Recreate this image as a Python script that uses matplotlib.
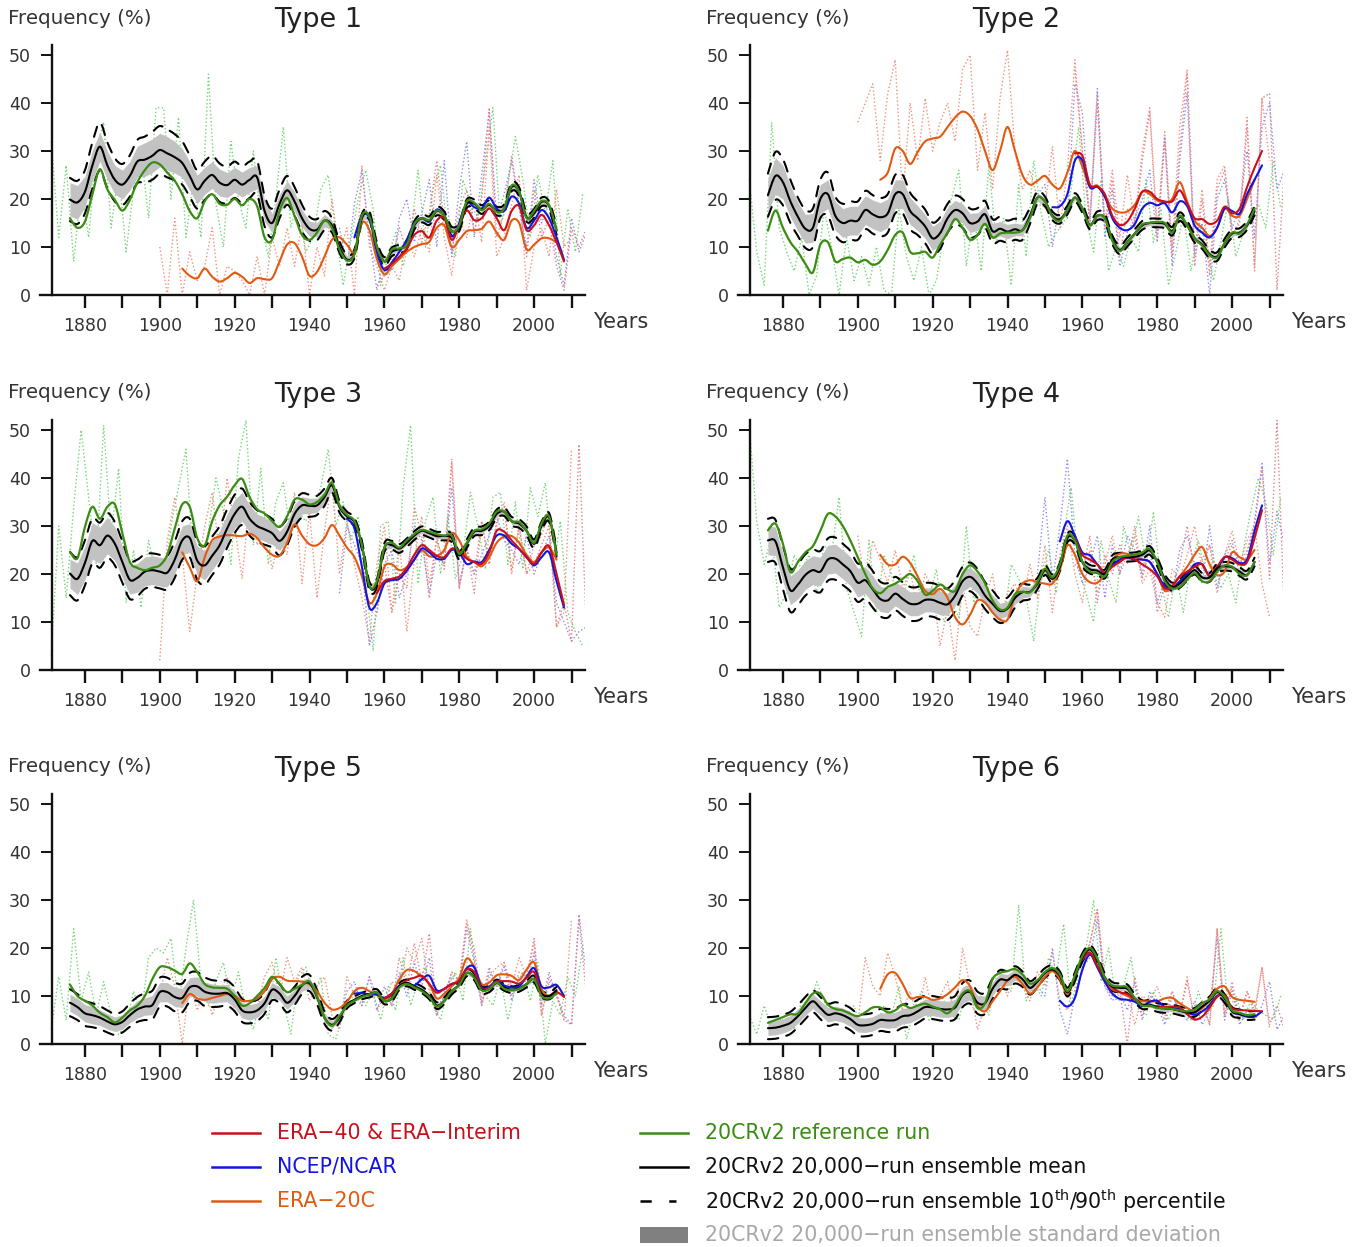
import matplotlib
matplotlib.use("Agg")
import matplotlib.pyplot as plt
from matplotlib.path import Path
from matplotlib.patches import PathPatch
import numpy as np

# ---------------- year grids ----------------
YR_20CR = list(range(1876, 2007, 2))       # smoothed 20CRv2 curves
YR_ERA20C = list(range(1906, 2007, 2))     # smoothed ERA-20C
YR_RAW_20CR = list(range(1871, 2014, 2))   # annual (sampled) 20CRv2 reference run
YR_RAW_ERA20C = list(range(1900, 2011, 2))
YR_RAW_NCEP = list(range(1948, 2015, 2))
YR_RAW_ERA = list(range(1958, 2015, 2))

# ---------------- Type 1 ----------------
T1_MEAN = [19.9, 19.3, 21.5, 27.0, 30.9, 27.0, 24.0, 23.0, 24.8, 27.8,
           28.2, 29.0, 30.2, 29.5, 28.7, 27.5, 24.8, 22.0, 23.8, 25.0,
           23.4, 22.9, 24.0, 23.0, 24.0, 24.5, 17.5, 15.0, 19.0, 21.8,
           19.5, 16.0, 13.8, 13.6, 15.5, 14.5, 10.0, 7.4, 8.6, 16.0,
           16.5, 10.1, 7.0, 9.0, 9.6, 10.5, 14.5, 16.0, 15.5, 17.5,
           16.5, 13.3, 14.2, 19.0, 19.0, 17.8, 18.8, 17.5, 18.0, 22.5,
           21.5, 16.2, 17.0, 19.4, 18.6, 13.5]
T1_REF = [16.0, 14.0, 15.3, 21.0, 26.2, 22.0, 19.8, 17.6, 19.8, 23.5,
          26.0, 27.6, 27.2, 25.5, 23.8, 21.0, 17.5, 16.0, 19.5, 21.0,
          19.0, 18.8, 20.0, 18.7, 20.0, 18.5, 12.0, 11.5, 17.5, 20.2,
          16.5, 12.5, 11.5, 13.0, 15.5, 14.0, 9.5, 7.2, 8.5, 16.5,
          16.3, 10.0, 7.0, 9.5, 9.7, 10.5, 14.8, 16.0, 15.6, 17.6,
          16.5, 13.2, 14.5, 19.5, 19.2, 17.7, 19.0, 17.3, 18.0, 22.8,
          21.5, 16.0, 17.5, 19.6, 18.7, 13.5]
T1_SD = [3.5, 3.5, 3.2, 3.2, 3.0, 3.0, 3.0, 3.0, 3.0, 3.2,
         3.5, 3.5, 3.5, 3.5, 3.3, 3.0, 3.0, 3.0, 2.8, 2.8,
         2.8, 2.6, 2.6, 2.6, 2.6, 2.4, 2.2, 2.0, 2.0, 2.0,
         2.0, 1.8, 1.6, 1.5, 1.3, 1.0, 0.8, 0.7, 0.5, 0.5] + [0.5] * 26
T1_PW = [4.5, 4.5, 4.5, 4.8, 5.0, 4.8, 4.5, 4.3, 4.3, 4.5,
         4.8, 5.0, 5.0, 5.0, 4.8, 4.5, 4.3, 4.0, 4.0, 4.0,
         4.0, 3.8, 3.8, 3.8, 3.8, 3.5, 3.2, 3.0, 3.0, 3.0,
         3.0, 2.8, 2.5, 2.2, 2.0, 1.5, 1.2, 1.0, 0.9, 0.9] + [0.9] * 26
T1_NCEP_START = 1952
T1_NCEP = [12.0, 16.5, 16.0, 9.0, 5.2, 6.8, 9.0, 11.5, 15.0, 16.0,
           15.3, 17.8, 16.5, 12.2, 15.0, 19.2, 18.3, 18.0, 20.3, 18.0,
           17.5, 20.5, 19.0, 14.0, 15.5, 17.7, 16.0, 12.0, 7.3]
T1_ERA_START = 1960
T1_ERA = [5.5, 6.5, 8.0, 9.7, 12.5, 13.3, 12.0, 15.5, 16.0, 11.5,
          14.5, 17.6, 15.6, 16.0, 18.0, 16.0, 13.5, 17.5, 18.5, 13.5,
          14.5, 16.7, 14.5, 11.0, 7.0]
T1_ERA20C = [5.5, 4.0, 3.5, 5.5, 3.8, 2.8, 3.5, 4.6, 3.8, 2.5,
             3.5, 3.3, 3.5, 7.0, 10.5, 10.8, 8.0, 4.0, 4.8, 8.0,
             11.5, 12.0, 10.5, 9.0, 15.0, 13.5, 7.5, 4.3, 6.0, 7.5,
             9.0, 10.0, 10.6, 11.1, 14.0, 14.5, 10.0, 11.5, 13.3, 13.5,
             13.8, 15.3, 13.0, 11.5, 15.5, 15.0, 9.5, 10.5, 11.8, 11.8,
             11.0]
T1_RAW_REF = [32, 12, 27, 7, 22, 12, 30, 36, 14, 26,
              9, 22, 30, 16, 39, 39, 20, 37, 12, 24,
              12, 46, 19, 10, 32, 20, 14, 30, 15, 8,
              20, 35, 14, 20, 9, 12, 22, 25, 13, 2,
              11, 20, 26, 18, 2, 8, 13, 6, 12, 26,
              10, 22, 27, 12, 8, 24, 19, 16, 27, 39,
              14, 23, 33, 24, 12, 25, 17, 28, 4, 18,
              9, 21]
T1_RAW_ERA20C = [10, 0, 16, 0, 9, 3, 6, 14, 0, 6,
                 5, 3, 0, 8, 0, 12, 6, 14, 6, 15,
                 0, 10, 4, 20, 9, 14, 0, 27, 10, 6,
                 1, 6, 3, 12, 8, 14, 9, 25, 12, 4,
                 16, 12, 20, 11, 35, 8, 12, 19, 25, 1,
                 10, 14, 8, 22, 10, 12]
T1_RAW_NCEP = [14, 6, 19, 26, 12, 1, 8, 5, 16, 20,
               11, 17, 24, 10, 28, 8, 22, 32, 12, 25,
               38, 16, 21, 28, 18, 10, 24, 15, 19, 8,
               2, 16, 9, 13]
T1_RAW_ERA = [2, 4, 7, 14, 9, 18, 11, 17, 28, 15,
              9, 18, 22, 13, 20, 39, 12, 17, 29, 19,
              8, 22, 12, 16, 6, 1, 14, 10, 14]

# ---------------- Type 2 ----------------
T2_MEAN = [20.8, 24.8, 23.5, 19.5, 16.3, 13.8, 14.0, 20.0, 21.0, 16.5,
           15.0, 15.5, 15.5, 17.7, 16.8, 16.2, 17.0, 21.0, 21.0, 17.5,
           16.0, 14.3, 11.8, 12.9, 16.0, 17.7, 17.0, 15.0, 15.3, 16.8,
           13.3, 13.8, 13.2, 13.7, 13.5, 16.5, 20.3, 19.5, 16.5, 15.8,
           17.7, 20.3, 18.0, 14.6, 16.5, 16.0, 11.5, 9.4, 11.0, 12.8,
           14.5, 15.0, 15.0, 14.8, 13.3, 16.3, 14.5, 11.8, 10.5, 8.5,
           8.0, 10.8, 12.8, 13.0, 14.5, 17.5]
T2_REF = [13.4, 17.6, 14.0, 11.0, 9.0, 6.5, 4.7, 10.5, 11.0, 7.0,
          7.5, 7.8, 6.8, 7.3, 6.3, 7.0, 9.4, 12.5, 13.0, 9.0,
          8.7, 9.0, 7.8, 10.5, 13.0, 15.8, 14.0, 11.5, 12.5, 14.8,
          12.0, 12.8, 13.0, 13.0, 13.5, 16.0, 20.3, 19.5, 16.3, 15.5,
          17.7, 20.3, 18.0, 14.5, 16.5, 16.0, 11.3, 9.2, 11.0, 12.8,
          14.7, 15.0, 15.2, 15.0, 13.0, 16.5, 14.5, 11.8, 10.3, 8.3,
          7.8, 10.8, 13.0, 12.8, 14.7, 18.0]
T2_SD = [3.5, 3.8, 3.5, 3.3, 3.0, 3.0, 3.0, 3.0, 3.0, 3.0,
         3.0, 3.0, 3.0, 3.0, 3.0, 3.0, 3.0, 3.0, 3.0, 2.8,
         2.6, 2.5, 2.5, 2.5, 2.3, 2.0, 2.0, 2.0, 1.8, 1.8,
         1.6, 1.5, 1.5, 1.3, 1.2, 1.0, 0.8, 0.6, 0.5, 0.5] + [0.5] * 26
T2_PW = [4.5, 5.0, 4.8, 4.5, 4.0, 4.0, 4.0, 4.0, 4.5, 4.0,
         4.0, 4.0, 4.0, 4.0, 4.0, 4.0, 4.0, 4.0, 4.0, 3.8,
         3.5, 3.5, 3.3, 3.3, 3.0, 3.0, 3.0, 3.0, 2.8, 2.8,
         2.5, 2.5, 2.3, 2.2, 2.0, 1.7, 1.3, 1.0, 0.9, 0.9] + [0.9] * 26
T2_NCEP_START = 1952
T2_NCEP = [18.3, 18.5, 21.0, 28.0, 28.0, 22.5, 22.5, 20.5, 16.0, 14.0,
           13.5, 14.8, 18.0, 19.2, 18.7, 19.1, 17.2, 19.5, 18.5, 14.5,
           13.0, 12.0, 14.0, 18.0, 17.5, 17.0, 21.0, 24.0, 27.0]
T2_ERA_START = 1958
T2_ERA = [29.5, 29.0, 23.0, 22.6, 21.0, 16.5, 14.6, 15.3, 18.0, 21.5,
          21.5, 20.0, 19.5, 19.5, 21.8, 19.0, 16.0, 15.8, 14.8, 15.5,
          18.4, 17.0, 18.0, 22.5, 26.5, 30.0]
T2_ERA20C = [24.0, 25.5, 30.5, 30.0, 27.3, 29.8, 32.0, 32.6, 33.0, 35.0,
             37.0, 38.2, 37.3, 34.5, 30.0, 26.0, 30.0, 35.0, 30.0, 25.0,
             23.0, 23.8, 24.8, 23.0, 22.2, 25.5, 30.0, 26.7, 22.6, 22.8,
             20.5, 18.0, 17.2, 17.4, 18.8, 21.5, 21.0, 19.7, 19.3, 20.0,
             23.5, 19.5, 15.5, 14.0, 12.3, 14.0, 18.0, 16.5, 16.5, 20.0,
             24.0]
T2_RAW_REF = [24, 9, 2, 36, 14, 9, 5, 12, 0, 4,
              18, 10, 0, 12, 3, 8, 2, 10, 1, 0,
              18, 8, 3, 10, 0, 3, 13, 20, 26, 6,
              17, 5, 27, 11, 16, 2, 23, 8, 28, 17,
              10, 13, 15, 22, 35, 16, 9, 24, 5, 10,
              6, 12, 9, 24, 11, 18, 2, 9, 17, 5,
              14, 12, 3, 11, 20, 8, 13, 16, 19, 14,
              28, 18]
T2_RAW_ERA20C = [36, 40, 44, 28, 42, 49, 20, 40, 28, 41,
                 30, 36, 40, 32, 47, 50, 26, 38, 22, 41,
                 51, 30, 22, 26, 20, 18, 31, 14, 26, 49,
                 30, 16, 42, 15, 26, 12, 25, 15, 30, 39,
                 14, 34, 10, 35, 47, 9, 22, 6, 24, 27,
                 12, 16, 37, 5, 41, 28]
T2_RAW_NCEP = [21, 23, 10, 20, 16, 44, 38, 14, 43, 12,
               22, 6, 13, 16, 20, 26, 11, 33, 6, 28,
               42, 8, 15, 0, 20, 24, 14, 18, 30, 12,
               35, 40, 22, 26]
T2_RAW_ERA = [47, 30, 15, 40, 14, 24, 8, 18, 14, 28,
              38, 12, 32, 8, 30, 46, 6, 20, 4, 22,
              26, 12, 15, 35, 6, 41, 42, 1, 27]

# ---------------- Type 3 ----------------
T3_MEAN = [20.1, 19.0, 22.3, 26.9, 26.0, 28.0, 26.3, 22.5, 18.8, 19.2,
           20.5, 20.8, 20.5, 20.3, 23.0, 27.0, 27.5, 22.8, 21.8, 23.8,
           26.0, 29.5, 32.5, 34.0, 31.5, 30.0, 29.3, 28.5, 26.9, 28.8,
           32.5, 34.3, 34.2, 34.3, 36.0, 38.5, 34.0, 32.0, 30.8, 26.0,
           17.5, 18.0, 25.5, 26.0, 25.3, 26.5, 28.0, 29.0, 28.5, 27.9,
           27.9, 27.5, 23.9, 26.3, 28.8, 29.0, 30.0, 32.5, 33.0, 31.0,
           30.5, 29.0, 26.3, 30.0, 31.8, 24.5]
T3_REF = [24.6, 23.3, 29.8, 34.0, 31.5, 34.0, 34.5, 28.5, 22.5, 21.3,
          20.8, 21.3, 21.8, 24.0, 29.5, 34.5, 34.0, 27.5, 26.0, 31.0,
          34.3, 36.1, 38.5, 39.8, 36.0, 33.5, 32.6, 31.0, 29.8, 32.0,
          35.5, 35.5, 34.5, 35.0, 36.5, 39.0, 34.3, 32.3, 31.0, 26.0,
          17.5, 18.5, 25.5, 26.5, 25.5, 27.0, 28.3, 29.2, 28.8, 28.3,
          28.0, 28.0, 24.2, 26.5, 29.0, 29.3, 30.5, 33.0, 33.0, 31.0,
          30.8, 29.0, 26.5, 30.5, 32.0, 24.0]
T3_SD = [3.0, 3.3, 3.5, 3.8, 3.8, 3.8, 3.5, 3.3, 3.0, 3.0,
         3.0, 3.0, 3.0, 3.0, 3.0, 3.0, 3.0, 3.0, 3.0, 3.0,
         3.0, 3.0, 3.0, 3.0, 2.8, 2.5, 2.5, 2.3, 2.0, 2.0,
         2.0, 1.8, 1.6, 1.5, 1.3, 1.0, 0.8, 0.6, 0.5, 0.5] + [0.5] * 26
T3_PW = [4.5, 4.5, 4.7, 4.7, 4.7, 4.7, 4.5, 4.3, 4.0, 3.8,
         3.6, 3.5, 3.5, 3.5, 3.8, 4.0, 4.0, 4.0, 4.0, 4.0,
         4.0, 4.0, 4.0, 3.8, 3.5, 3.3, 3.2, 3.0, 3.0, 2.8,
         2.7, 2.5, 2.3, 2.0, 1.8, 1.5, 1.2, 1.0, 0.9, 0.9] + [0.9] * 26
T3_NCEP_START = 1950
T3_NCEP = [31.5, 29.5, 21.5, 13.0, 14.0, 18.0, 18.7, 19.0, 20.7, 23.0,
           25.3, 24.5, 23.2, 23.2, 25.0, 24.5, 22.1, 22.6, 22.5, 25.0,
           28.0, 28.0, 26.3, 25.2, 23.5, 21.8, 23.5, 24.5, 18.5, 13.0]
T3_ERA_START = 1958
T3_ERA = [16.0, 18.5, 19.0, 19.5, 21.3, 24.0, 26.0, 25.0, 23.8, 23.5,
          25.3, 24.8, 23.2, 22.5, 22.1, 24.5, 29.0, 28.8, 27.0, 25.3,
          23.5, 22.1, 24.5, 25.8, 20.0, 13.5]
T3_ERA20C = [24.5, 21.4, 18.5, 23.5, 27.0, 27.8, 28.1, 28.0, 27.9, 28.4,
             27.5, 25.5, 24.0, 23.8, 26.5, 30.3, 28.0, 26.2, 26.0, 27.5,
             30.2, 28.0, 25.5, 23.5, 19.5, 14.0, 16.0, 21.5, 22.0, 20.8,
             21.4, 23.0, 24.9, 23.7, 23.8, 25.0, 28.5, 27.0, 23.6, 22.5,
             21.6, 23.5, 26.5, 27.8, 27.9, 26.5, 24.0, 22.5, 24.5, 25.5,
             23.0]
T3_RAW_REF = [3, 30, 15, 34, 50, 36, 22, 51, 28, 42,
              14, 25, 13, 27, 20, 17, 30, 38, 46, 22,
              20, 29, 40, 33, 22, 44, 52, 26, 42, 22,
              35, 39, 28, 33, 31, 34, 38, 46, 30, 35,
              27, 32, 18, 4, 30, 31, 14, 38, 51, 18,
              31, 36, 20, 32, 19, 24, 37, 30, 21, 36,
              37, 22, 35, 21, 38, 32, 39, 20, 31, 12,
              8, 5]
T3_RAW_ERA20C = [2, 27, 36, 24, 8, 20, 30, 37, 24, 40,
                 30, 19, 36, 26, 32, 21, 28, 24, 37, 18,
                 33, 15, 29, 40, 20, 31, 22, 15, 6, 22,
                 30, 12, 27, 8, 23, 32, 18, 27, 22, 44,
                 17, 25, 20, 31, 22, 30, 35, 21, 30, 20,
                 26, 28, 33, 9, 12, 46]
T3_RAW_NCEP = [16, 30, 26, 22, 5, 12, 22, 25, 15, 20,
               30, 27, 16, 24, 22, 38, 18, 25, 20, 24,
               28, 32, 27, 25, 22, 28, 20, 24, 28, 14,
               10, 6, 8, 9]
T3_RAW_ERA = [12, 22, 12, 20, 17, 34, 28, 15, 28, 21,
              43, 17, 26, 16, 31, 22, 31, 34, 20, 30,
              20, 22, 26, 30, 9, 14, 6, 47, 8]

# ---------------- Type 4 ----------------
T4_MEAN = [27.0, 26.8, 21.4, 16.6, 17.8, 19.8, 20.8, 20.5, 23.0, 23.2,
           22.0, 20.6, 18.2, 18.7, 16.8, 14.8, 14.5, 15.9, 14.8, 13.8,
           13.8, 14.6, 14.6, 14.0, 13.7, 15.5, 18.5, 19.4, 18.0, 15.5,
           13.8, 12.3, 12.8, 15.0, 16.2, 16.3, 18.0, 20.8, 19.0, 21.5,
           27.5, 27.0, 22.5, 21.0, 20.7, 20.0, 23.0, 23.5, 23.5, 23.6,
           24.0, 24.9, 22.5, 19.0, 17.3, 18.0, 19.5, 20.8, 19.3, 19.3,
           21.2, 21.6, 21.4, 20.5, 19.8, 22.5]
T4_REF = [29.1, 30.5, 26.3, 20.4, 22.5, 24.5, 25.8, 29.0, 32.5, 32.0,
          30.0, 27.0, 23.5, 20.0, 17.0, 16.0, 17.3, 18.0, 19.0, 20.0,
          18.5, 15.7, 16.5, 17.8, 16.8, 16.5, 20.0, 21.8, 20.5, 18.0,
          14.5, 12.6, 13.0, 15.8, 16.3, 16.2, 18.3, 21.1, 19.3, 22.0,
          28.0, 27.0, 22.5, 20.5, 20.2, 19.5, 22.5, 23.5, 23.8, 24.0,
          24.5, 25.2, 22.5, 18.5, 17.0, 17.3, 18.8, 20.2, 18.5, 18.5,
          20.5, 21.8, 21.5, 20.0, 19.8, 22.5]
T4_SD = [3.0, 3.0, 3.0, 3.0, 3.0, 3.0, 3.0, 3.0, 3.0, 3.0,
         3.0, 3.0, 3.0, 2.8, 2.8, 2.6, 2.6, 2.5, 2.5, 2.5,
         2.5, 2.5, 2.5, 2.5, 2.3, 2.2, 2.2, 2.0, 2.0, 1.8,
         1.8, 1.6, 1.5, 1.3, 1.2, 1.0, 0.8, 0.6, 0.5, 0.5] + [0.5] * 26
T4_PW = [4.5, 4.5, 4.5, 4.5, 4.3, 4.3, 4.3, 4.3, 4.4, 4.4,
         4.3, 4.2, 4.0, 3.8, 3.8, 3.6, 3.6, 3.5, 3.5, 3.5,
         3.5, 3.5, 3.5, 3.5, 3.3, 3.2, 3.0, 3.0, 3.0, 2.8,
         2.8, 2.5, 2.3, 2.0, 1.8, 1.5, 1.2, 1.0, 0.9, 0.9] + [0.9] * 26
T4_NCEP_START = 1954
T4_NCEP = [26.8, 31.0, 28.0, 24.5, 23.9, 22.0, 20.2, 21.8, 23.0, 23.4,
           23.0, 23.0, 22.5, 20.0, 17.5, 17.0, 18.5, 20.0, 22.0, 22.0,
           19.6, 21.0, 23.5, 23.3, 22.3, 23.0, 29.0, 34.3]
T4_ERA_START = 1958
T4_ERA = [27.5, 24.0, 23.0, 22.0, 20.3, 21.5, 22.5, 23.5, 23.0, 22.0,
          21.0, 19.5, 17.0, 17.5, 19.5, 20.5, 21.5, 22.0, 19.6, 21.5,
          23.5, 23.0, 22.0, 22.5, 27.5, 33.3]
T4_ERA20C = [24.0, 22.0, 22.0, 23.6, 22.3, 19.5, 16.5, 15.8, 16.9, 15.0,
             11.0, 9.5, 11.5, 14.5, 14.0, 12.0, 10.5, 10.5, 15.5, 18.0,
             18.7, 18.3, 18.0, 18.0, 21.0, 26.0, 24.0, 20.0, 18.3, 18.2,
             20.0, 23.0, 24.2, 24.2, 23.6, 23.0, 22.5, 20.0, 16.5, 17.5,
             19.5, 21.5, 24.0, 25.6, 22.0, 19.8, 20.5, 24.5, 23.5, 23.0,
             25.0]
T4_RAW_REF = [51, 31, 22, 28, 13, 16, 24, 21, 24, 16,
              26, 24, 36, 17, 12, 7, 27, 12, 24, 20,
              13, 18, 24, 13, 15, 21, 10, 14, 11, 30,
              14, 20, 15, 14, 10, 22, 19, 15, 6, 20,
              25, 16, 28, 38, 21, 16, 10, 27, 19, 14,
              30, 24, 32, 22, 33, 18, 11, 20, 12, 22,
              27, 19, 23, 17, 20, 14, 25, 33, 40, 35,
              24, 36]
T4_RAW_ERA20C = [28, 17, 27, 23, 18, 25, 17, 21, 12, 20,
                 17, 5, 13, 2, 18, 9, 7, 15, 20, 10,
                 16, 18, 14, 22, 15, 26, 12, 24, 30, 20,
                 14, 25, 16, 22, 28, 20, 24, 28, 18, 21,
                 14, 11, 21, 19, 24, 30, 21, 26, 16, 24,
                 29, 22, 27, 30, 18, 11]
T4_RAW_NCEP = [20, 36, 18, 30, 44, 24, 18, 22, 28, 15,
               26, 20, 28, 25, 20, 30, 14, 19, 16, 25,
               28, 22, 18, 30, 17, 24, 27, 20, 24, 31,
               43, 22, 33, 26]
T4_RAW_ERA = [22, 20, 28, 14, 24, 20, 26, 22, 30, 19,
              26, 12, 18, 17, 22, 30, 20, 23, 26, 20,
              23, 26, 22, 25, 30, 42, 19, 52, 11]

# ---------------- Type 5 ----------------
T5_MEAN = [8.6, 7.7, 6.4, 6.0, 5.5, 4.7, 4.1, 4.6, 6.0, 7.2,
           7.8, 8.1, 10.8, 10.8, 9.8, 9.6, 11.8, 12.0, 10.9, 10.5,
           10.5, 10.6, 9.3, 7.0, 6.6, 7.0, 8.5, 11.3, 10.5, 8.6,
           10.0, 12.2, 12.7, 9.8, 5.5, 4.0, 5.5, 8.2, 9.2, 10.0,
           10.4, 10.7, 9.0, 9.5, 12.0, 12.7, 12.0, 11.3, 10.0, 8.0,
           9.0, 11.0, 12.4, 14.8, 14.0, 11.3, 11.5, 12.7, 11.8, 11.3,
           11.6, 12.5, 13.5, 10.5, 10.0, 11.2]
T5_REF = [12.4, 10.0, 9.0, 8.0, 6.5, 5.6, 4.5, 5.5, 7.0, 8.0,
          10.0, 13.5, 16.0, 16.0, 15.3, 14.6, 16.8, 15.0, 12.5, 11.8,
          11.7, 11.5, 10.0, 8.0, 8.5, 10.0, 11.7, 14.0, 12.5, 10.8,
          11.5, 12.3, 13.0, 10.0, 5.5, 3.8, 5.8, 8.0, 9.0, 9.8,
          10.3, 10.7, 9.0, 9.5, 11.8, 12.5, 11.8, 11.0, 9.8, 7.8,
          9.0, 11.0, 12.3, 14.8, 13.8, 11.2, 11.5, 12.8, 11.5, 11.2,
          11.5, 12.5, 13.5, 10.0, 9.5, 10.5]
T5_SD = [1.8, 1.8, 1.8, 1.8, 1.6, 1.6, 1.5, 1.5, 1.6, 1.8,
         1.8, 2.0, 2.0, 2.0, 2.0, 2.0, 2.0, 2.0, 2.0, 2.0,
         1.8, 1.8, 1.8, 1.6, 1.6, 1.5, 1.5, 1.5, 1.4, 1.4,
         1.3, 1.2, 1.1, 1.0, 0.9, 0.8, 0.6, 0.5, 0.4, 0.4] + [0.4] * 26
T5_PW = [2.8, 2.7, 2.6, 2.5, 2.4, 2.3, 2.2, 2.2, 2.4, 2.6,
         2.8, 3.0, 3.0, 3.0, 3.0, 3.0, 3.0, 3.0, 3.0, 2.8,
         2.7, 2.6, 2.5, 2.4, 2.3, 2.2, 2.2, 2.2, 2.0, 2.0,
         1.9, 1.8, 1.7, 1.5, 1.3, 1.2, 1.0, 0.8, 0.7, 0.7] + [0.7] * 26
T5_NCEP_START = 1952
T5_NCEP = [10.5, 10.6, 10.3, 10.3, 9.6, 10.5, 12.2, 12.7, 12.2, 13.5,
           14.2, 11.2, 11.5, 12.5, 13.1, 15.8, 16.0, 11.8, 12.0, 13.1,
           12.2, 11.8, 12.0, 14.0, 15.8, 12.0, 11.8, 12.3, 10.0]
T5_ERA_START = 1960
T5_ERA = [9.5, 10.5, 12.0, 13.3, 13.8, 14.2, 12.5, 10.7, 11.5, 12.5,
          13.1, 15.5, 15.0, 11.5, 11.8, 13.0, 13.1, 13.0, 12.6, 13.8,
          15.0, 10.5, 10.0, 10.8, 9.8]
T5_ERA20C = [8.5, 10.4, 9.5, 9.2, 9.6, 10.0, 10.4, 10.0, 9.0, 9.0,
             9.5, 11.0, 13.5, 14.0, 13.2, 13.1, 13.0, 12.4, 11.0, 8.6,
             7.2, 7.5, 8.8, 11.0, 11.7, 11.0, 10.2, 9.3, 10.5, 13.5,
             15.4, 15.2, 14.0, 12.5, 9.5, 10.5, 12.0, 13.8, 17.8, 16.0,
             12.5, 12.8, 14.3, 14.5, 14.2, 13.3, 15.5, 17.0, 11.5, 10.0,
             11.0]
T5_RAW_REF = [3, 14, 5, 24, 9, 15, 6, 13, 6, 2,
              4, 11, 6, 18, 20, 19, 22, 8, 20, 30,
              13, 8, 13, 17, 9, 15, 7, 3, 10, 5,
              18, 9, 2, 14, 16, 10, 14, 2, 1, 6,
              9, 12, 8, 11, 5, 12, 7, 18, 8, 13,
              16, 8, 5, 12, 15, 9, 24, 12, 10, 8,
              14, 5, 12, 15, 9, 17, 0, 9, 6, 14,
              10, 20]
T5_RAW_ERA20C = [10, 18, 12, 0, 13, 7, 12, 6, 11, 14,
                 7, 10, 5, 8, 14, 17, 10, 18, 13, 16,
                 9, 12, 14, 6, 3, 14, 10, 8, 14, 10,
                 8, 13, 11, 20, 17, 22, 11, 6, 10, 15,
                 13, 26, 18, 8, 14, 16, 17, 12, 18, 14,
                 21, 6, 13, 11, 5, 26]
T5_RAW_NCEP = [5, 11, 13, 8, 14, 7, 12, 8, 15, 10,
               17, 12, 18, 6, 11, 14, 12, 24, 17, 8,
               15, 12, 16, 9, 14, 12, 19, 8, 15, 10,
               6, 4, 27, 14]
T5_RAW_ERA = [7, 10, 8, 18, 12, 21, 13, 23, 7, 10,
              15, 13, 25, 20, 9, 16, 12, 17, 10, 15,
              14, 22, 6, 14, 10, 5, 4, 26, 10]

# ---------------- Type 6 ----------------
T6_MEAN = [3.3, 3.4, 3.8, 4.4, 5.8, 7.5, 8.9, 7.5, 6.1, 6.4,
           6.0, 5.2, 4.0, 3.9, 4.2, 5.0, 4.9, 5.0, 5.8, 6.0,
           6.8, 7.7, 7.6, 7.3, 7.2, 7.6, 10.2, 10.8, 8.6, 8.5,
           11.5, 13.4, 13.3, 14.4, 13.5, 11.7, 13.0, 14.8, 15.5, 14.2,
           10.8, 14.0, 18.0, 19.7, 17.5, 13.8, 12.0, 11.7, 11.5, 9.5,
           8.2, 8.2, 7.6, 7.4, 7.3, 6.9, 6.6, 6.6, 7.8, 9.0,
           10.8, 9.5, 6.8, 6.3, 5.9, 6.0]
T6_REF = [4.4, 5.0, 5.6, 6.2, 6.3, 8.5, 10.5, 10.5, 8.2, 7.3,
          7.0, 6.3, 5.8, 6.6, 7.6, 7.6, 6.6, 7.0, 8.2, 7.5,
          8.0, 8.4, 7.8, 7.2, 6.4, 8.0, 10.5, 11.0, 7.5, 8.5,
          13.5, 14.8, 15.2, 15.6, 14.5, 12.6, 13.3, 15.0, 15.8, 14.5,
          11.0, 14.3, 18.3, 20.0, 17.8, 13.8, 12.2, 12.0, 11.8, 9.5,
          8.0, 8.0, 7.5, 7.5, 7.3, 7.0, 6.8, 7.2, 8.5, 9.3,
          11.0, 9.8, 7.0, 6.5, 6.0, 6.2]
T6_SD = [1.5, 1.5, 1.5, 1.5, 1.5, 1.5, 1.5, 1.5, 1.5, 1.5,
         1.5, 1.5, 1.5, 1.5, 1.5, 1.5, 1.6, 1.6, 1.6, 1.6,
         1.6, 1.7, 1.7, 1.7, 1.7, 1.7, 1.7, 1.6, 1.5, 1.5,
         1.4, 1.3, 1.2, 1.1, 1.0, 0.9, 0.7, 0.6, 0.5, 0.5] + [0.5] * 26
T6_PW = [2.3, 2.3, 2.3, 2.3, 2.3, 2.3, 2.3, 2.3, 2.3, 2.3,
         2.3, 2.3, 2.3, 2.3, 2.3, 2.3, 2.4, 2.4, 2.4, 2.4,
         2.4, 2.4, 2.4, 2.4, 2.4, 2.4, 2.5, 2.4, 2.3, 2.2,
         2.1, 2.0, 1.9, 1.8, 1.6, 1.4, 1.2, 1.0, 0.9, 0.9] + [0.9] * 26
T6_NCEP_START = 1954
T6_NCEP = [9.0, 7.8, 9.6, 15.5, 18.6, 16.0, 13.0, 10.5, 9.4, 9.2,
           8.8, 7.9, 8.8, 9.0, 7.7, 7.5, 7.3, 6.6, 6.1, 6.8,
           8.0, 10.0, 10.0, 6.8, 6.2, 5.7, 5.7, 6.8]
T6_ERA_START = 1960
T6_ERA = [17.5, 19.0, 16.3, 13.8, 11.8, 10.8, 10.4, 9.3, 8.1, 7.9,
          7.9, 7.7, 7.8, 7.6, 6.2, 5.1, 5.7, 7.6, 9.8, 10.2,
          7.5, 7.1, 7.0, 6.9, 6.8]
T6_ERA20C = [11.5, 14.5, 14.8, 12.5, 9.6, 9.8, 9.8, 9.2, 9.5, 10.4,
             11.8, 13.3, 12.0, 8.0, 6.8, 8.9, 11.0, 13.2, 14.0, 12.5,
             10.5, 11.8, 14.0, 15.2, 13.5, 10.5, 14.0, 18.0, 19.0, 16.0,
             13.0, 11.4, 10.8, 10.0, 9.3, 8.9, 8.9, 8.9, 9.5, 9.6,
             8.5, 7.5, 6.8, 7.5, 9.5, 11.5, 12.0, 9.8, 9.2, 9.0,
             8.8]
T6_RAW_REF = [6, 2, 8, 3, 5, 6, 3, 9, 7, 13,
              9, 5, 7, 6, 8, 3, 5, 4, 8, 6,
              12, 1, 7, 11, 5, 8, 9, 6, 5, 12,
              7, 10, 6, 14, 12, 11, 29, 9, 13, 10,
              18, 14, 25, 8, 15, 20, 30, 13, 20, 9,
              12, 18, 7, 6, 11, 7, 5, 9, 6, 5,
              11, 6, 8, 24, 7, 10, 5, 9, 7, 6,
              5, 10]
T6_RAW_ERA20C = [4, 18, 12, 10, 19, 14, 7, 11, 5, 14,
                 6, 10, 13, 5, 20, 12, 3, 8, 11, 14,
                 10, 16, 12, 9, 15, 12, 19, 9, 7, 14,
                 18, 21, 28, 14, 11, 9, 12, 4, 10, 9,
                 12, 7, 11, 6, 14, 5, 9, 4, 24, 6,
                 13, 5, 11, 7, 16, 3]
T6_RAW_NCEP = [12, 10, 20, 7, 2, 10, 16, 18, 26, 12,
               9, 11, 7, 13, 5, 11, 8, 4, 10, 7,
               5, 9, 4, 7, 22, 5, 11, 4, 7, 5,
               8, 13, 3, 6]
T6_RAW_ERA = [11, 15, 21, 28, 12, 10, 11, 0, 14, 6,
              10, 9, 5, 11, 6, 13, 5, 9, 4, 24,
              6, 12, 5, 11, 6, 16, 4, 8, 3]

# colours
C_ERA = "#c8101c"
C_NCEP = "#1414e0"
C_ERA20C = "#e05a12"
C_REF = "#3a8c12"
C_BAND = "#c2c2c2"
C_TXT = "#333333"

PANELS = [
    (1, T1_MEAN, T1_REF, T1_SD, T1_PW, T1_NCEP_START, T1_NCEP, T1_ERA_START, T1_ERA,
     T1_ERA20C, T1_RAW_REF, T1_RAW_ERA20C, T1_RAW_NCEP, T1_RAW_ERA),
    (2, T2_MEAN, T2_REF, T2_SD, T2_PW, T2_NCEP_START, T2_NCEP, T2_ERA_START, T2_ERA,
     T2_ERA20C, T2_RAW_REF, T2_RAW_ERA20C, T2_RAW_NCEP, T2_RAW_ERA),
    (3, T3_MEAN, T3_REF, T3_SD, T3_PW, T3_NCEP_START, T3_NCEP, T3_ERA_START, T3_ERA,
     T3_ERA20C, T3_RAW_REF, T3_RAW_ERA20C, T3_RAW_NCEP, T3_RAW_ERA),
    (4, T4_MEAN, T4_REF, T4_SD, T4_PW, T4_NCEP_START, T4_NCEP, T4_ERA_START, T4_ERA,
     T4_ERA20C, T4_RAW_REF, T4_RAW_ERA20C, T4_RAW_NCEP, T4_RAW_ERA),
    (5, T5_MEAN, T5_REF, T5_SD, T5_PW, T5_NCEP_START, T5_NCEP, T5_ERA_START, T5_ERA,
     T5_ERA20C, T5_RAW_REF, T5_RAW_ERA20C, T5_RAW_NCEP, T5_RAW_ERA),
    (6, T6_MEAN, T6_REF, T6_SD, T6_PW, T6_NCEP_START, T6_NCEP, T6_ERA_START, T6_ERA,
     T6_ERA20C, T6_RAW_REF, T6_RAW_ERA20C, T6_RAW_NCEP, T6_RAW_ERA),
]

W, H = 1365, 1247
fig = plt.figure(figsize=(W / 100, H / 100), dpi=100)

col_left = [40, 738]
row_bottom = [295, 670, 1044]
ax_w, ax_h = 545, 52 * 4.8


def smooth(ax, x, y, **kw):
    # draw the curve through the points as a Catmull-Rom style bezier path
    p = np.column_stack([np.asarray(x, float), np.asarray(y, float)])
    n = len(p)
    verts = [p[0]]
    codes = [Path.MOVETO]
    for i in range(n - 1):
        p0 = p[i - 1] if i > 0 else p[i]
        p3 = p[i + 2] if i + 2 < n else p[i + 1]
        c1 = p[i] + (p[i + 1] - p0) / 6.0
        c2 = p[i + 1] - (p3 - p[i]) / 6.0
        verts += [c1, c2, p[i + 1]]
        codes += [Path.CURVE4] * 3
    patch = PathPatch(Path(verts, codes), fill=False, capstyle="round", **kw)
    ax.add_patch(patch)


def draw_panel(ax, num, mean, ref, sd, pw, ncep_start, ncep, era_start, era,
               era20c, raw_ref, raw_era20c, raw_ncep, raw_era):
    mean = np.array(mean)
    sd = np.array(sd)
    pw = np.array(pw)
    ncep_yr = list(range(ncep_start, ncep_start + 2 * len(ncep), 2))
    era_yr = list(range(era_start, era_start + 2 * len(era), 2))

    # annual values, dotted
    ax.plot(YR_RAW_20CR, raw_ref, ls=":", lw=1.0, color="#72d872", zorder=1)
    ax.plot(YR_RAW_ERA20C, raw_era20c, ls=":", lw=1.0, color="#f5907c", zorder=1)
    ax.plot(YR_RAW_NCEP, raw_ncep, ls=":", lw=1.0, color="#8c8cf2", zorder=1)
    ax.plot(YR_RAW_ERA, raw_era, ls=":", lw=1.0, color="#e8808a", zorder=1)

    # ensemble spread
    ax.fill_between(YR_20CR, mean - sd, mean + sd, color=C_BAND, lw=0, zorder=2)
    smooth(ax, YR_20CR, mean + pw, edgecolor="k", lw=1.5, ls=(0, (5, 4)), zorder=3)
    smooth(ax, YR_20CR, mean - pw, edgecolor="k", lw=1.5, ls=(0, (5, 4)), zorder=3)

    # smoothed reanalyses
    smooth(ax, YR_ERA20C, era20c, edgecolor=C_ERA20C, lw=1.5, zorder=4)
    smooth(ax, ncep_yr, ncep, edgecolor=C_NCEP, lw=1.5, zorder=4)
    smooth(ax, era_yr, era, edgecolor=C_ERA, lw=1.5, zorder=4)
    smooth(ax, YR_20CR, mean, edgecolor="k", lw=1.5, zorder=5)
    smooth(ax, YR_20CR, ref, edgecolor=C_REF, lw=1.6, zorder=6)

    ax.set_xlim(1868, 2013.6)
    ax.set_ylim(0, 52)
    ax.spines["top"].set_visible(False)
    ax.spines["right"].set_visible(False)
    ax.spines["left"].set_position(("data", 1871.2))
    for s in ("left", "bottom"):
        ax.spines[s].set_linewidth(1.7)
        ax.spines[s].set_color("#111111")
    ax.set_yticks(range(0, 51, 10))
    xt = list(range(1880, 2011, 10))
    ax.set_xticks(xt)
    ax.set_xticklabels([str(y) if (y - 1880) % 20 == 0 else "" for y in xt])
    ax.tick_params(axis="x", length=9, width=1.7, pad=7, labelsize=12.5,
                   labelcolor=C_TXT, color="#111111")
    ax.tick_params(axis="y", length=8, width=1.4, pad=7, labelsize=12.5,
                   labelcolor=C_TXT, color="#111111")


for i, p in enumerate(PANELS):
    r, c = divmod(i, 2)
    x0 = col_left[c]
    yb = row_bottom[r]
    ax = fig.add_axes([x0 / W, 1 - yb / H, ax_w / W, ax_h / H])
    draw_panel(ax, *p)
    xoff = c * 698
    ytop = yb - 277
    fig.text((8 + xoff) / W, 1 - ytop / H, "Frequency (%)", fontsize=14.3,
             color=C_TXT, ha="left", va="center")
    fig.text((318 + xoff) / W, 1 - (ytop + 2) / H, "Type %d" % p[0], fontsize=19.5,
             color="#222222", ha="center", va="center")
    fig.text((593 + xoff) / W, 1 - (yb + 27) / H, "Years", fontsize=15,
             color=C_TXT, ha="left", va="center")

# ---------------- legend ----------------
lax = fig.add_axes([0, 0, 1, 1])
lax.set_xlim(0, W)
lax.set_ylim(H, 0)
lax.axis("off")
fs = 14.8
rows = [1133, 1167, 1201, 1235]
left_items = [("ERA\u221240 & ERA\u2212Interim", C_ERA),
              ("NCEP/NCAR", C_NCEP),
              ("ERA\u221220C", C_ERA20C)]
for (lab, col), y in zip(left_items, rows):
    lax.plot([212, 260], [y, y], color=col, lw=1.8)
    lax.text(277, y, lab, color=col, fontsize=fs, va="center", ha="left")

lax.plot([640, 688], [rows[0], rows[0]], color=C_REF, lw=1.8)
lax.text(705, rows[0], "20CRv2 reference run", color=C_REF, fontsize=fs, va="center")
lax.plot([640, 688], [rows[1], rows[1]], color="k", lw=1.8)
lax.text(705, rows[1], "20CRv2 20,000\u2212run ensemble mean", color="#111111",
         fontsize=fs, va="center")
lax.plot([640, 676], [rows[2], rows[2]], color="k", lw=1.8, ls=(0, (4.5, 7)))
lax.text(705, rows[2], "20CRv2 20,000\u2212run ensemble 10$^{\\mathrm{th}}$/90$^{\\mathrm{th}}$ percentile",
         color="#111111", fontsize=fs, va="center")
lax.fill_between([640, 688], [rows[3] - 8] * 2, [rows[3] + 8] * 2, color="#808080", lw=0)
lax.text(705, rows[3], "20CRv2 20,000\u2212run ensemble standard deviation",
         color="#a8a8a8", fontsize=fs, va="center")

fig.savefig("out.png", dpi=100)
